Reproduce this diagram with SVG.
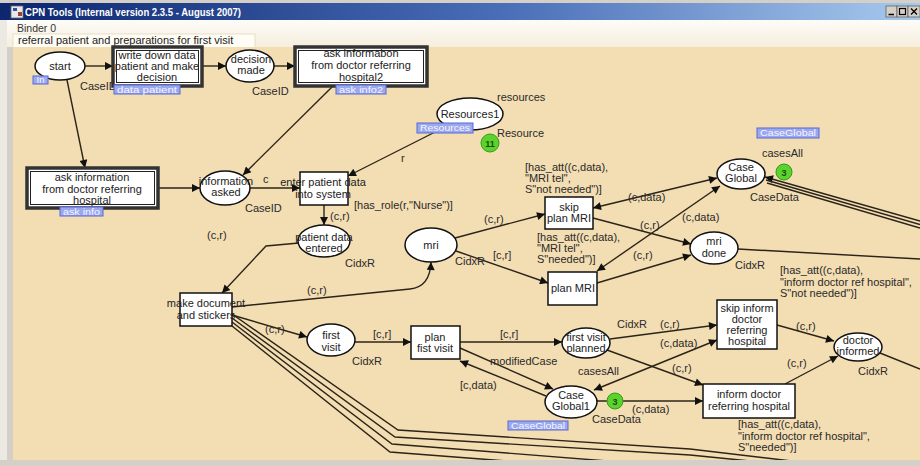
<svg xmlns="http://www.w3.org/2000/svg" width="920" height="466" viewBox="0 0 920 466">
<defs>
<linearGradient id="tb" x1="0" y1="0" x2="1" y2="0">
<stop offset="0" stop-color="#0C2670"/><stop offset="0.55" stop-color="#4A6EB8"/><stop offset="1" stop-color="#A8CAEE"/>
</linearGradient>
<linearGradient id="hd" x1="0" y1="0" x2="0" y2="1">
<stop offset="0" stop-color="#FDFCF8"/><stop offset="1" stop-color="#F6EEDC"/>
</linearGradient>
<marker id="ah" viewBox="0 0 10 10" refX="10" refY="5" markerWidth="10" markerHeight="8" markerUnits="userSpaceOnUse" orient="auto-start-reverse">
<path d="M0,0 L10,5 L0,10 z" fill="#111"/>
</marker>
<style>
.pl{fill:#fff;stroke:#111;stroke-width:1.5}
.tr{fill:#fff;stroke:#111;stroke-width:1.5}
.sub{fill:#fff;stroke:#333;stroke-width:3.5}
.subi{fill:none;stroke:#222;stroke-width:1}
.nt{font-family:"Liberation Sans",Arial,sans-serif;font-size:11px;fill:#222;text-anchor:middle}
.lb{font-family:"Liberation Sans",Arial,sans-serif;font-size:11px;fill:#2a2a2a}
.tag{fill:#9CA8EE;stroke:#5868D4;stroke-width:1}
.tgt{font-family:"Liberation Sans",Arial,sans-serif;font-size:9.5px;fill:#F4F6FF;text-anchor:middle}
.tok{fill:#5BD22E;stroke:#3A9A1A;stroke-width:1}
.tkt{font-family:"Liberation Sans",Arial,sans-serif;font-size:9px;fill:#1B4D0A;text-anchor:middle;font-weight:bold}
.arc{fill:none;stroke:#2b2418;stroke-width:1.4}
.ea{marker-end:url(#ah)}
.ba{marker-start:url(#ah);marker-end:url(#ah)}
</style>
</defs>

<!-- window chrome -->
<rect x="0" y="0" width="920" height="466" fill="#D4D0C8"/>
<rect x="0" y="3" width="920" height="17" fill="url(#tb)"/>
<g id="icon">
<rect x="11" y="6" width="12" height="12" fill="#E8E8E8" stroke="#666" stroke-width="0.8"/>
<rect x="13" y="8" width="4" height="3" fill="#3050A0"/><rect x="18" y="12" width="4" height="4" fill="#A04030"/>
</g>
<text x="25" y="15.5" font-family="'Liberation Sans',Arial,sans-serif" font-size="10px" font-weight="bold" fill="#fff" textLength="216" lengthAdjust="spacingAndGlyphs">CPN Tools (Internal version 2.3.5 - August 2007)</text>
<g id="winbtns">
<rect x="886" y="6" width="11" height="11" fill="#D4D0C8" stroke="#555" stroke-width="0.7"/>
<rect x="897" y="6" width="11" height="11" fill="#D4D0C8" stroke="#555" stroke-width="0.7"/>
<rect x="908" y="6" width="12" height="11" fill="#D4D0C8" stroke="#555" stroke-width="0.7"/>
<path d="M888.5,14.5 H894" stroke="#000" stroke-width="1.5"/>
<rect x="899.5" y="8.5" width="6" height="6" fill="none" stroke="#000" stroke-width="1.2"/>
<path d="M911,8.5 L917,14.5 M917,8.5 L911,14.5" stroke="#000" stroke-width="1.3"/>
</g>
<rect x="7" y="20" width="913" height="28" fill="url(#hd)"/>
<text x="17" y="32" font-family="'Liberation Sans',Arial,sans-serif" font-size="10.5px" fill="#333">Binder 0</text>
<rect x="13" y="34" width="242" height="14" fill="#FFFDF6" stroke="#E2D8C0" stroke-width="0.8"/>
<text x="18" y="44" font-family="'Liberation Sans',Arial,sans-serif" font-size="11px" fill="#222">referral patient and preparations for first visit</text>
<rect x="13" y="47" width="907" height="413" fill="#F3DDB3"/>

<!-- connectors -->
<g id="connectors">
<path class="arc ea" d="M85,66 L113,66"/>
<path class="arc ea" d="M202,66 L226,66"/>
<path class="arc ea" d="M274,66 L295,66"/>
<path class="arc ea" d="M67,80 L85,168"/>
<path class="arc ea" d="M158,188 L200,188"/>
<path class="arc ea" d="M333,86 L243,175"/>
<path class="arc ea" d="M250,188 L300,188"/>
<path class="arc ea" d="M447,126 L348,176"/>
<path class="arc ea" d="M324,205 L324,225"/>
<path class="arc ea" d="M299,243 L266,246 L222,293"/>
<path class="arc ea" d="M232,307 L410,289 Q430,287 431,262"/>
<path class="arc ea" d="M232,315 L307,337"/>
<path class="arc ea" d="M355,342 L411,342"/>
<path class="arc ea" d="M460,342 L562,342"/>
<path class="arc ea" d="M460,348 L553,389"/>
<path class="arc ea" d="M546,396 L460,361"/>
<path class="arc ea" d="M455,238 L545,214"/>
<path class="arc ea" d="M456,251 L548,283"/>
<path class="arc ba" d="M593,208 L717,178"/>
<path class="arc ba" d="M597,271 L720,186"/>
<path class="arc ea" d="M593,218 L691,244"/>
<path class="arc ea" d="M597,283 L691,255"/>
<path class="arc" d="M738,249 L920,259"/>
<path class="arc ea" d="M920,221 L765,177"/>
<path class="arc" d="M920,224.5 L766,180"/>
<path class="arc" d="M920,228 L767,183"/>
<path class="arc ea" d="M610,339 L717,325"/>
<path class="arc ba" d="M594,390 L717,340"/>
<path class="arc ea" d="M607,350 L703,385"/>
<path class="arc ea" d="M597,401 L703,401"/>
<path class="arc ea" d="M777,325 L834,341"/>
<path class="arc ea" d="M785,384 L838,356"/>
<path class="arc" d="M880,353 L920,369"/>
<path class="arc" d="M232,314 L398,430 L690,449 L800,462"/>
<path class="arc" d="M232,318 L395,437 L690,455 L760,462"/>
<path class="arc" d="M232,322 L392,444 L620,462"/>
<path class="arc" d="M232,326 L390,452 L520,462"/>
</g>

<!-- nodes -->
<g id="start">
<ellipse class="pl" cx="60" cy="66" rx="25" ry="14"/>
<text class="nt" x="60" y="70">start</text>
<text class="lb" x="80" y="90">CaseID</text>
<rect class="tag" x="33" y="76" width="15" height="8"/><text class="tgt" x="40.5" y="83" font-size="8px">In</text>
</g>
<g id="write-down-data">
<rect class="sub" x="113" y="47" width="89" height="39"/>
<rect class="subi" x="116.5" y="50.5" width="82" height="32"/>
<text class="nt" x="157" y="59">write down data</text>
<text class="nt" x="157" y="70">patient and make</text>
<text class="nt" x="157" y="81">decision</text>
<rect class="tag" x="114" y="85" width="66" height="9"/><text class="tgt" x="147" y="92.5" textLength="60" lengthAdjust="spacingAndGlyphs">data patient</text>
</g>
<g id="decision-made">
<ellipse class="pl" cx="250" cy="66" rx="24" ry="16"/>
<text class="nt" x="251" y="63">decision</text>
<text class="nt" x="251" y="74">made</text>
<text class="lb" x="252" y="95">CaseID</text>
</g>
<g id="ask-info2">
<rect class="sub" x="295" y="47" width="132" height="39"/>
<rect class="subi" x="298.5" y="50.5" width="125" height="32"/>
<text class="nt" x="361" y="57">ask informabon</text>
<text class="nt" x="361" y="69">from doctor referring</text>
<text class="nt" x="361" y="81">hospital2</text>
<rect class="tag" x="336" y="85" width="50" height="9"/><text class="tgt" x="361" y="92.5" textLength="44" lengthAdjust="spacingAndGlyphs">ask info2</text>
</g>
<g id="resources1">
<ellipse class="pl" cx="470" cy="114" rx="33" ry="16"/>
<text class="nt" x="470" y="118">Resources1</text>
<text class="lb" x="497" y="101">resources</text>
<text class="lb" x="497" y="137">Resource</text>
<rect class="tag" x="417" y="123" width="56" height="10"/><text class="tgt" x="445" y="131" textLength="50" lengthAdjust="spacingAndGlyphs">Resources</text>
<circle class="tok" cx="490" cy="143" r="9"/><text class="tkt" x="490" y="146.5">11</text>
</g>
<g id="case-global">
<ellipse class="pl" cx="741" cy="174" rx="24" ry="15"/>
<text class="nt" x="741" y="171" fill="#555">Case</text>
<text class="nt" x="741" y="182" fill="#555">Global</text>
<text class="lb" x="750" y="201">CaseData</text>
<text class="lb" x="762" y="157">casesAll</text>
<rect class="tag" x="757" y="128" width="62" height="10"/><text class="tgt" x="788" y="136" textLength="56" lengthAdjust="spacingAndGlyphs">CaseGlobal</text>
<circle class="tok" cx="784" cy="172" r="8"/><text class="tkt" x="784" y="175.5">3</text>
</g>
<g id="ask-info">
<rect class="sub" x="27" y="168" width="131" height="40"/>
<rect class="subi" x="30.5" y="171.5" width="124" height="33"/>
<text class="nt" x="92" y="181">ask information</text>
<text class="nt" x="92" y="193">from doctor referring</text>
<text class="nt" x="92" y="204">hospital</text>
<rect class="tag" x="60" y="207" width="43" height="9"/><text class="tgt" x="81.5" y="214.5" textLength="37" lengthAdjust="spacingAndGlyphs">ask info</text>
</g>
<g id="information-asked">
<ellipse class="pl" cx="225" cy="188" rx="25" ry="17"/>
<text class="nt" x="226" y="185">information</text>
<text class="nt" x="226" y="196">asked</text>
<text class="lb" x="245" y="212">CaseID</text>
</g>
<g id="enter-patient-data">
<rect class="tr" x="300" y="172" width="48" height="33"/>
<text class="nt" x="323" y="186">enter patient data</text>
<text class="nt" x="323" y="198">into system</text>
<text class="lb" x="354" y="209">[has_role(r,"Nurse")]</text>
</g>
<g id="patient-data-entered">
<ellipse class="pl" cx="324" cy="241" rx="26" ry="16"/>
<text class="nt" x="324" y="241">patient data</text>
<text class="nt" x="324" y="252">entered</text>
<text class="lb" x="345" y="267">CidxR</text>
</g>
<g id="mri">
<ellipse class="pl" cx="431" cy="245" rx="26" ry="17"/>
<text class="nt" x="431" y="249">mri</text>
</g>
<g id="skip-plan-mri">
<rect class="tr" x="545" y="197" width="48" height="32"/>
<text class="nt" x="569" y="211">skip</text>
<text class="nt" x="569" y="222">plan MRI</text>
<text class="lb" x="525" y="171">[has_att((c,data),</text>
<text class="lb" x="525" y="182">"MRI tel",</text>
<text class="lb" x="525" y="193">S"not needed")]</text>
</g>
<g id="plan-mri">
<rect class="tr" x="548" y="272" width="49" height="33"/>
<text class="nt" x="573" y="292">plan MRI</text>
<text class="lb" x="537" y="241">[has_att((c,data),</text>
<text class="lb" x="537" y="252">"MRI tel",</text>
<text class="lb" x="537" y="263">S"needed")]</text>
</g>
<g id="mri-done">
<ellipse class="pl" cx="714" cy="248" rx="24" ry="16"/>
<text class="nt" x="714" y="245">mri</text>
<text class="nt" x="714" y="257">done</text>
<text class="lb" x="735" y="269">CidxR</text>
</g>
<g id="make-document">
<rect class="tr" x="180" y="293" width="52" height="33"/>
<text class="nt" x="206" y="307">make document</text>
<text class="nt" x="206" y="319">and stickers</text>
</g>
<g id="first-visit">
<ellipse class="pl" cx="331" cy="340" rx="24" ry="16"/>
<text class="nt" x="331" y="339">first</text>
<text class="nt" x="331" y="351">visit</text>
<text class="lb" x="352" y="365">CidxR</text>
</g>
<g id="plan-first-visit">
<rect class="tr" x="411" y="326" width="49" height="33"/>
<text class="nt" x="435" y="341">plan</text>
<text class="nt" x="435" y="352">fist visit</text>
</g>
<g id="first-visit-planned">
<ellipse class="pl" cx="586" cy="343" rx="24" ry="15"/>
<text class="nt" x="586" y="341">first visit</text>
<text class="nt" x="586" y="352">planned</text>
<text class="lb" x="617" y="328">CidxR</text>
</g>
<g id="case-global1">
<ellipse class="pl" cx="571" cy="402" rx="26" ry="16"/>
<text class="nt" x="571" y="399">Case</text>
<text class="nt" x="571" y="410">Global1</text>
<text class="lb" x="592" y="423">CaseData</text>
<rect class="tag" x="508" y="421" width="60" height="9"/><text class="tgt" x="538" y="428.5" textLength="54" lengthAdjust="spacingAndGlyphs">CaseGlobal</text>
<circle class="tok" cx="615" cy="401" r="8"/><text class="tkt" x="615" y="404.5">3</text>
</g>
<g id="skip-inform-doctor">
<rect class="tr" x="717" y="300" width="60" height="49"/>
<text class="nt" x="747" y="312">skip inform</text>
<text class="nt" x="747" y="323">doctor</text>
<text class="nt" x="747" y="334">referring</text>
<text class="nt" x="747" y="345">hospital</text>
<text class="lb" x="780" y="274">[has_att((c,data),</text>
<text class="lb" x="780" y="286">"inform doctor ref hospital",</text>
<text class="lb" x="780" y="297">S"not needed")]</text>
</g>
<g id="doctor-informed">
<ellipse class="pl" cx="858" cy="347" rx="24" ry="14"/>
<text class="nt" x="858" y="344">doctor</text>
<text class="nt" x="858" y="355">informed</text>
<text class="lb" x="858" y="375">CidxR</text>
</g>
<g id="inform-doctor">
<rect class="tr" x="703" y="384" width="92" height="34"/>
<text class="nt" x="749" y="398">inform doctor</text>
<text class="nt" x="749" y="410">referring hospital</text>
<text class="lb" x="738" y="428">[has_att((c,data),</text>
<text class="lb" x="738" y="440">"inform doctor ref hospital",</text>
<text class="lb" x="738" y="451">S"needed")]</text>
</g>

<!-- arc inscriptions -->
<g id="inscriptions" class="lb">
<text class="lb" x="263" y="183">c</text>
<text class="lb" x="401" y="162">r</text>
<text class="lb" x="330" y="220">(c,r)</text>
<text class="lb" x="207" y="239">(c,r)</text>
<text class="lb" x="307" y="294">(c,r)</text>
<text class="lb" x="484" y="223">(c,r)</text>
<text class="lb" x="493" y="259">[c,r]</text>
<text class="lb" x="455" y="265">CidxR</text>
<text class="lb" x="628" y="201">(c,data)</text>
<text class="lb" x="640" y="229">(c,r)</text>
<text class="lb" x="682" y="221">(c,data)</text>
<text class="lb" x="633" y="259">(c,r)</text>
<text class="lb" x="265" y="333">(c,r)</text>
<text class="lb" x="373" y="338">[c,r]</text>
<text class="lb" x="500" y="338">[c,r]</text>
<text class="lb" x="490" y="365">modifiedCase</text>
<text class="lb" x="460" y="389">[c,data)</text>
<text class="lb" x="578" y="375">casesAll</text>
<text class="lb" x="660" y="328">(c,r)</text>
<text class="lb" x="660" y="347">(c,data)</text>
<text class="lb" x="672" y="372">(c,r)</text>
<text class="lb" x="632" y="413">(c,data)</text>
<text class="lb" x="796" y="330">(c,r)</text>
<text class="lb" x="787" y="367">(c,r)</text>
</g>

<!-- frame edges -->
<rect x="0" y="20" width="7" height="446" fill="#ECE9E2"/>
<rect x="7" y="47" width="6" height="419" fill="#D4D0C8"/>
<rect x="0" y="460" width="920" height="6" fill="#D4D0C8"/>
</svg>
